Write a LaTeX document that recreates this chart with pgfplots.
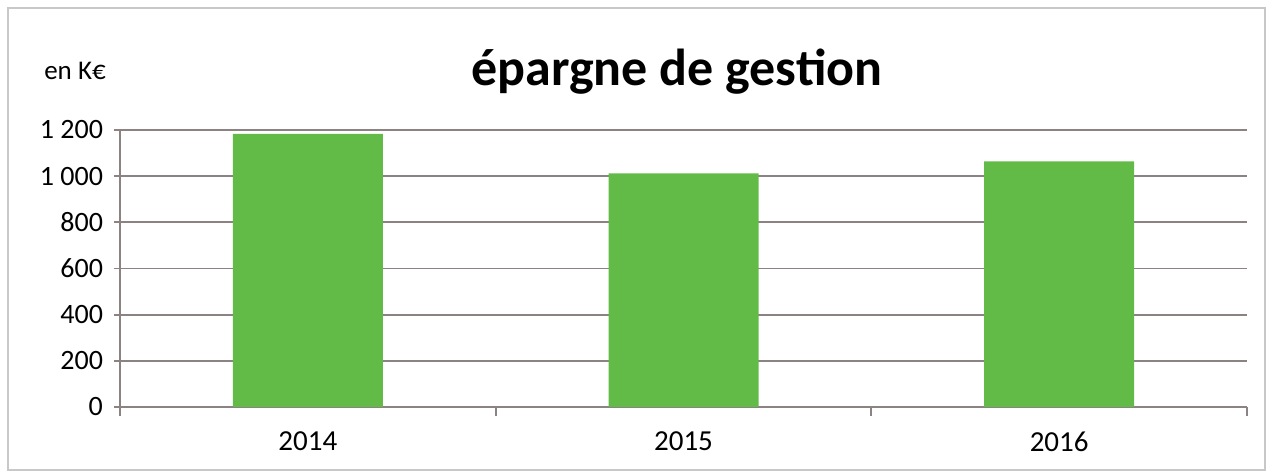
\documentclass[border=0pt]{standalone}
\usepackage{pgfplots}
\pgfplotsset{compat=1.18}
\usepackage{fontspec}
\setmainfont{Carlito}
\definecolor{bargreen}{RGB}{98,187,70}
\definecolor{gridc}{RGB}{140,130,130}
\definecolor{framec}{RGB}{200,200,200}
\begin{document}
\begin{tikzpicture}
\useasboundingbox (-60pt,-33.5pt) rectangle (576.5pt,203.5pt);
\draw[framec, line width=0.8pt] (-56pt,-31.5pt) rectangle (572.5pt,199.5pt);
\begin{axis}[
  at={(0,0)}, anchor=south west,
  scale only axis,
  width=563.5pt, height=138.5pt,
  xmin=-0.5, xmax=2.5,
  ymin=0, ymax=1200,
  axis x line*=bottom, axis y line*=left,
  axis line style={gridc, line width=0.9pt},
  xtick={0,1,2},
  xticklabels={2014,2015,2016},
  minor xtick={-0.5,0.5,1.5,2.5},
  ytick={0,200,400,600,800,1000,1200},
  yticklabels={0,200,400,600,800,1 000,1 200},
  tick align=outside,
  major tick length=3pt,
  minor tick length=4.5pt,
  x tick style={draw=none},
  minor x tick style={draw=gridc, line width=0.9pt},
  y tick style={gridc, line width=0.9pt},
  ymajorgrids,
  grid style={gridc, line width=0.9pt},
  ticklabel style={font=\fontsize{14}{16}\selectfont, text=black},
  yticklabel style={xshift=-2pt},
  xticklabel style={yshift=-6pt, font=\fontsize{14.5}{16}\selectfont},
  clip=false,
]
\addplot[ybar, bar width=75pt, fill=bargreen, draw=none, bar shift=0pt]
  coordinates {(0,1183) (1,1012) (2,1064)};
\end{axis}
\node[font=\bfseries\fontsize{26}{30}\selectfont, anchor=center] at (278.5pt,167.5pt) {épargne de gestion};
\node[font=\fontsize{13.5}{15}\selectfont, anchor=center] at (-22.5pt,168pt) {en K€};
\end{tikzpicture}
\end{document}
